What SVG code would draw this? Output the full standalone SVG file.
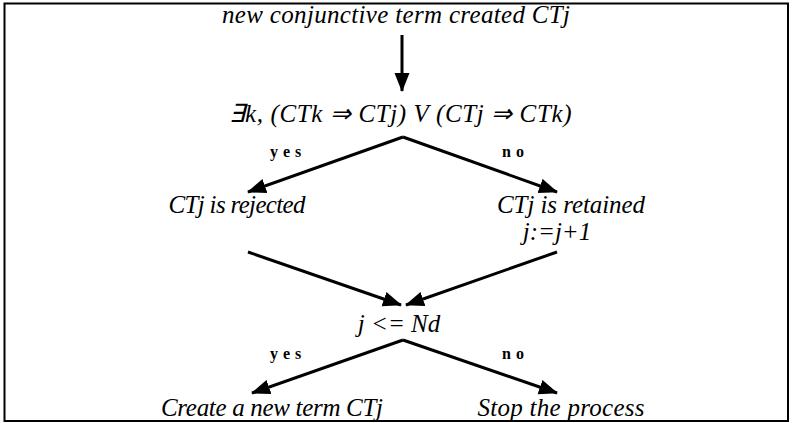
<svg xmlns="http://www.w3.org/2000/svg" width="793" height="423" viewBox="0 0 793 423">
<style>
.t{font-family:"Liberation Serif","Times New Roman",serif;font-style:italic;font-size:25px;fill:#000;text-anchor:middle}
.l{font-family:"Liberation Serif","Times New Roman",serif;font-weight:bold;font-size:16px;fill:#000;letter-spacing:5px}
.c{stroke:#000;stroke-width:3;fill:none}
</style>
<defs>
<marker id="ah" markerUnits="userSpaceOnUse" markerWidth="20" markerHeight="16" refX="18" refY="7.5" orient="auto">
<path d="M0,0 L19,7.5 L0,15 Z" fill="#000"/>
</marker>
</defs>
<rect x="4.5" y="3.5" width="783.5" height="417.5" fill="#fff" stroke="#000" stroke-width="2"/>
<g id="connectors">
<line class="c" x1="402" y1="35" x2="402" y2="91" stroke-width="2" marker-end="url(#ah)"/>
<line class="c" x1="403" y1="137" x2="248" y2="192" marker-end="url(#ah)"/>
<line class="c" x1="403" y1="137" x2="557" y2="192" marker-end="url(#ah)"/>
<line class="c" x1="248" y1="252" x2="401" y2="305" marker-end="url(#ah)"/>
<line class="c" x1="557" y1="252" x2="406" y2="305" marker-end="url(#ah)"/>
<line class="c" x1="403" y1="340" x2="252" y2="393" marker-end="url(#ah)"/>
<line class="c" x1="403" y1="340" x2="557" y2="393" marker-end="url(#ah)"/>
<text class="l" x="270" y="157">yes</text>
<text class="l" x="502" y="157">no</text>
<text class="l" x="270" y="359">yes</text>
<text class="l" x="502" y="359">no</text>
</g>
<g id="start"><text class="t" x="396" y="23" textLength="348">new conjunctive term created CTj</text></g>
<g id="test1"><text class="t" x="400" y="122" textLength="343">∃k, (CTk ⇒ CTj) V (CTj ⇒ CTk)</text></g>
<g id="rejected"><text class="t" x="237" y="213" textLength="137">CTj is rejected</text></g>
<g id="retained"><text class="t" x="571" y="213" textLength="148">CTj is retained</text><text class="t" x="557" y="240">j:=j+1</text></g>
<g id="test2"><text class="t" x="399" y="332">j &lt;= Nd</text></g>
<g id="create"><text class="t" x="272" y="416" textLength="222">Create a new term CTj</text></g>
<g id="stop"><text class="t" x="561" y="416" textLength="167">Stop the process</text></g>
</svg>
